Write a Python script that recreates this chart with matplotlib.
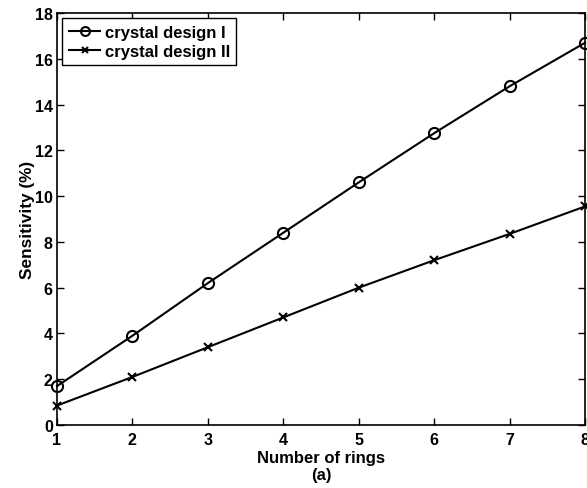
import matplotlib
matplotlib.use("Agg")
import matplotlib.pyplot as plt

rings = [1, 2, 3, 4, 5, 6, 7, 8]
design_1 = [1.7, 3.9, 6.2, 8.4, 10.6, 12.75, 14.8, 16.7]
design_2 = [0.85, 2.1, 3.4, 4.7, 6.0, 7.2, 8.35, 9.55]

plt.rcParams['font.family'] = ['Liberation Sans', 'DejaVu Sans']
plt.rcParams['font.weight'] = 'bold'
plt.rcParams['font.size'] = 11.5

fig = plt.figure(figsize=(5.87, 4.89), dpi=100)
ax = fig.add_axes([0.0971, 0.1288, 0.8995, 0.8425])

ax.plot(rings, design_1, color='black', lw=1.5, marker='o', ms=8,
        mfc='none', mew=1.5, label='crystal design I', clip_on=False)
ax.plot(rings, design_2, color='black', lw=1.5, marker='x', ms=6,
        mew=1.5, label='crystal design II', clip_on=False)

ax.set_xlim(1, 8)
ax.set_ylim(0, 18)
ax.set_yticks(range(0, 19, 2))
ax.tick_params(direction='in', length=5, width=1, top=True, right=True, pad=5)
ax.tick_params(axis='y', pad=3)
for s in ax.spines.values():
    s.set_linewidth(1.2)

ax.set_xlabel('Number of rings\n(a)', fontweight='bold', fontsize=12,
              labelpad=2, linespacing=1.2)
ax.set_ylabel('Sensitivity (%)', fontweight='bold', fontsize=12.4)
# sit the y label right against the tick labels, as in the original
ax.yaxis.set_label_coords(-0.042, 0.5)

leg = ax.legend(loc='upper left', bbox_to_anchor=(0.0095, 0.988),
                borderaxespad=0, fontsize=12, handlelength=1.9,
                fancybox=False, edgecolor='black', framealpha=1,
                borderpad=0.4, labelspacing=0.25, handletextpad=0.25,
                markerscale=0.8)
leg.get_frame().set_linewidth(1.0)

fig.savefig('out.png', dpi=100)
